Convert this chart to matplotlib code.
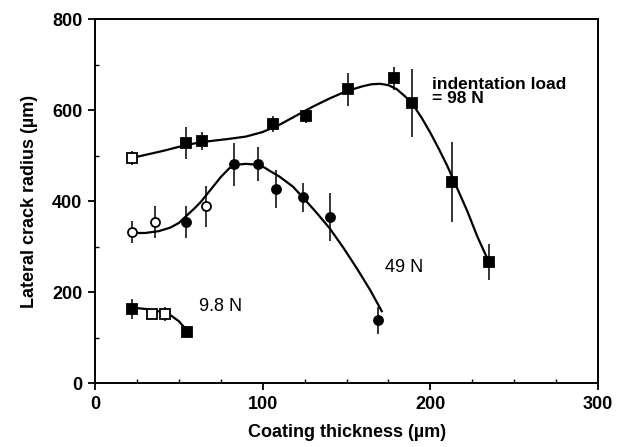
import matplotlib

matplotlib.use("Agg")
import matplotlib.pyplot as plt
from matplotlib.ticker import MultipleLocator

plt.rcParams["font.family"] = ["Liberation Sans", "DejaVu Sans"]

# --- measured points (coating thickness um, lateral crack radius um, +/- err)
x_98 = [22, 54, 64, 106, 126, 151, 178, 189, 213, 235]
y_98 = [495, 527, 532, 569, 587, 646, 670, 615, 442, 266]
e_98 = [15, 35, 20, 18, 15, 36, 26, 75, 88, 40]

x_49 = [22, 36, 54, 66, 83, 97, 108, 124, 140, 169]
y_49 = [332, 354, 355, 389, 481, 481, 426, 409, 365, 138]
e_49 = [25, 35, 35, 45, 47, 37, 42, 32, 52, 30]

x_10 = [22, 34, 42, 55]
y_10 = [163, 152, 152, 113]
e_10 = [22, 6, 15, 10]

# --- hand-drawn fit curves
cx_98 = [22, 40, 55, 64, 80, 90, 100, 110, 120, 130, 140, 150, 160, 165,
         170, 175, 180, 185, 190, 195, 200, 205, 210, 216, 222, 228, 235]
cy_98 = [495, 510, 524, 530, 537, 542, 552, 568, 588, 608, 626, 642, 653,
         657, 658, 655, 646, 630, 610, 582, 550, 515, 478, 428, 378, 322, 265]

cx_49 = [22, 30, 38, 45, 50, 54, 59, 63, 70, 75, 80, 84, 90, 97, 101, 104,
         110, 118, 125, 132, 140, 148, 156, 164, 171]
cy_49 = [330, 330, 334, 342, 352, 366, 383, 398, 430, 453, 472, 480, 482,
         480, 474, 467, 454, 432, 404, 375, 340, 298, 253, 205, 158]

cx_10 = [22, 30, 38, 44, 50, 55]
cy_10 = [166, 163, 158, 152, 136, 115]

# open (hollow) markers as they appear in the scan
open_98 = [True] + [False] * 9
open_49 = [True, True, False, True, False, False, False, False, False, False]
open_10 = [False, True, True, False]

FS = 13

fig = plt.figure(figsize=(6.25, 4.47), dpi=100)
ax = fig.add_axes([0.152, 0.143, 0.805, 0.814])


def series(xs, ys, es, hollow, cx, cy, marker):
    ax.plot(cx, cy, color="black", lw=1.6, zorder=2)
    ax.errorbar(xs, ys, yerr=es, fmt="none", ecolor="black", elinewidth=1.1,
                capsize=0, zorder=3)
    for x, y, h in zip(xs, ys, hollow):
        ax.plot(x, y, marker=marker, ms=6.5, mec="black", mew=1.3,
                mfc="white" if h else "black", zorder=4)


series(x_98, y_98, e_98, open_98, cx_98, cy_98, "s")
series(x_49, y_49, e_49, open_49, cx_49, cy_49, "o")
series(x_10, y_10, e_10, open_10, cx_10, cy_10, "s")

ax.text(201, 672, "indentation load\n= 98 N", fontsize=FS - 0.5,
        fontweight="bold", va="top", ha="left", linespacing=0.9)
ax.text(173, 255, "49 N", fontsize=FS, va="center", ha="left")
ax.text(62, 168, "9.8 N", fontsize=FS, va="center", ha="left")

ax.set_xlim(0, 300)
ax.set_ylim(0, 800)
ax.xaxis.set_major_locator(MultipleLocator(100))
ax.xaxis.set_minor_locator(MultipleLocator(25))
ax.yaxis.set_major_locator(MultipleLocator(200))
ax.yaxis.set_minor_locator(MultipleLocator(100))
ax.tick_params(which="major", direction="out", length=5, width=1.3,
               labelsize=FS, pad=4)
ax.tick_params(which="minor", direction="in", length=3, width=1)
for lab in ax.get_xticklabels() + ax.get_yticklabels():
    lab.set_fontweight("bold")
for s in ax.spines.values():
    s.set_linewidth(1.4)

ax.set_xlabel("Coating thickness (\u00b5m)", fontsize=FS, fontweight="bold",
              labelpad=8)
ax.set_ylabel("Lateral crack radius (\u00b5m)", fontsize=FS,
              fontweight="bold", labelpad=10)

fig.savefig("out.png", dpi=100)
